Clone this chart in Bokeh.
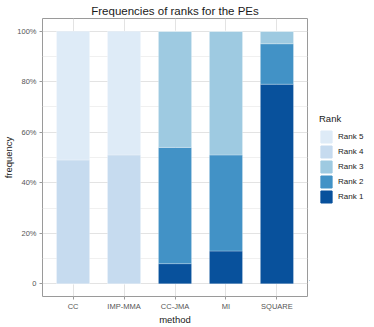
from bokeh.plotting import figure
from bokeh.layouts import row
from bokeh.models import FactorRange, Range1d, FixedTicker, Legend, LegendItem, ColumnDataSource, Title
from bokeh.embed import file_html
from bokeh.resources import INLINE

methods = ["CC", "IMP-MMA", "CC-JMA", "MI", "SQUARE"]
rank1 = [0, 0, 8, 13, 79]
rank2 = [0, 0, 46, 38, 16]
rank3 = [0, 0, 46, 49, 5]
rank4 = [49, 51, 0, 0, 0]
rank5 = [51, 49, 0, 0, 0]
rank_names = ["Rank 1", "Rank 2", "Rank 3", "Rank 4", "Rank 5"]
colors = ["#08519C", "#4292C6", "#9ECAE1", "#C6DBEF", "#DEEBF7"]
y_ticks = [0, 0.2, 0.4, 0.6, 0.8, 1.0]
y_tick_labels = ["0", "20%", "40%", "60%", "80%", "100%"]

FONT = "Liberation Sans"
FW, FH = 265, 278
TOTAL_H = 311

data = {"method": methods}
for name, vals in zip(rank_names, [rank1, rank2, rank3, rank4, rank5]):
    data[name] = [v / 100 for v in vals]
src = ColumnDataSource(data)

p = figure(x_range=FactorRange(*methods, range_padding=0.04),
           y_range=Range1d(-0.05, 1.05),
           frame_width=FW, frame_height=FH,
           min_border_left=0, min_border_right=2, min_border_top=0, min_border_bottom=0,
           output_backend="svg", toolbar_location=None,
           background_fill_color="white", border_fill_color="white")

p.title = Title(text="Frequencies of ranks for the PEs", align="center",
                text_font=FONT, text_font_size="11.5px", text_font_style="normal",
                text_color="#1a1a1a", standoff=4)

p.vbar_stack(rank_names, x="method", width=0.65, source=src,
             color=colors, line_color="white", line_width=0.5, line_alpha=0.5)

p.outline_line_color = "#9a9a9a"
p.outline_line_width = 1

p.yaxis.ticker = FixedTicker(ticks=y_ticks, minor_ticks=[0.1, 0.3, 0.5, 0.7, 0.9])
p.yaxis.major_label_overrides = {t: l for t, l in zip(y_ticks, y_tick_labels)}
p.yaxis.axis_label = "frequency"
p.xaxis.axis_label = "method"

for ax in (p.xaxis, p.yaxis):
    ax.axis_line_color = None
    ax.major_tick_line_color = "#9a9a9a"
    ax.major_tick_in = 0
    ax.major_tick_out = 3
    ax.minor_tick_line_color = None
    ax.major_label_text_font = FONT
    ax.major_label_text_font_size = "7.5px"
    ax.major_label_text_color = "#555555"
    ax.major_label_standoff = 2
    ax.axis_label_text_font = FONT
    ax.axis_label_text_font_size = "9.5px"
    ax.axis_label_text_font_style = "normal"
    ax.axis_label_text_color = "#1a1a1a"
    ax.axis_label_standoff = 0

p.xgrid.grid_line_color = "#E3E3E3"
p.ygrid.grid_line_color = "#E3E3E3"
p.ygrid.minor_grid_line_color = "#F0F0F0"

# legend panel
lg = figure(width=56, height=TOTAL_H, x_range=Range1d(0, 1), y_range=Range1d(0, 1),
            min_border=0, x_axis_location=None, y_axis_location=None,
            output_backend="svg", toolbar_location=None, outline_line_color=None,
            background_fill_color="white", border_fill_color="white")
lg.xgrid.visible = False
lg.ygrid.visible = False
dummy = [lg.vbar(x=[-10], top=[-10], bottom=[-11], width=1, fill_color=c, line_color=c) for c in colors]
items = [LegendItem(label=rank_names[i], renderers=[dummy[i]]) for i in range(4, -1, -1)]
legend = Legend(items=items, title="Rank", title_text_font=FONT, title_text_font_size="9.5px",
                title_text_font_style="normal",
                title_text_color="#1a1a1a", title_standoff=5,
                label_text_font=FONT, label_text_font_size="8px", label_text_color="#1a1a1a",
                glyph_width=14, glyph_height=15, label_height=15, spacing=0, padding=0,
                margin=0, border_line_color=None, background_fill_alpha=0,
                label_standoff=5, location=(10, 76))
lg.add_layout(legend, "center")

layout = row(p, lg, spacing=0)
open("out.html", "w").write(file_html(layout, INLINE))
